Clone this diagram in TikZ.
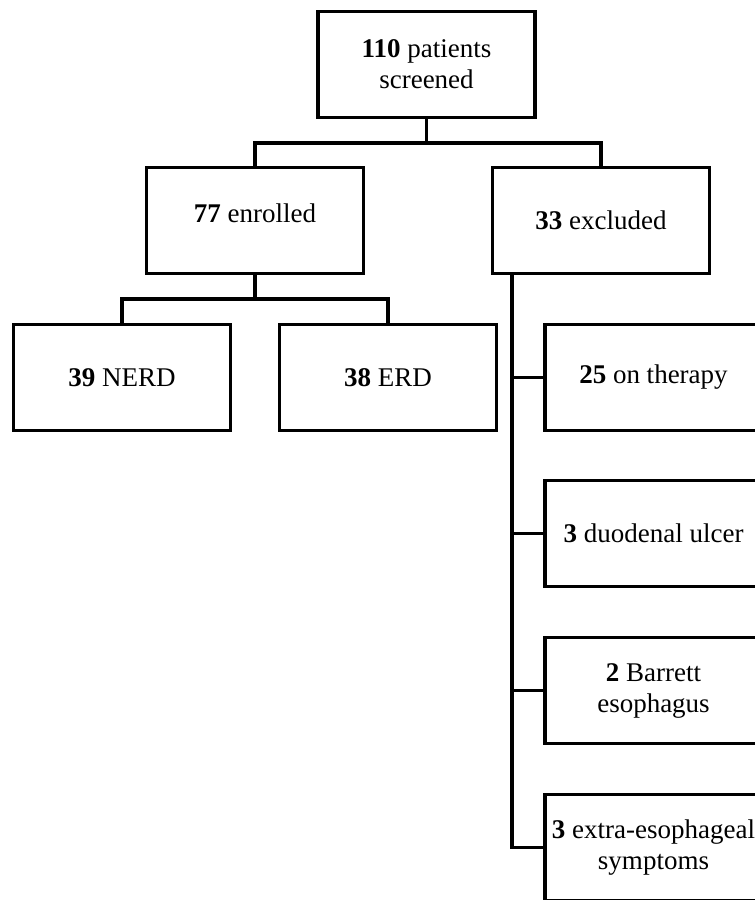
\documentclass[tikz,border=0pt]{standalone}
\usepackage{fontspec}
\setmainfont{Liberation Serif}
\begin{document}
\begin{tikzpicture}[x=1pt,y=-1pt,
  box/.style={draw=black, line width=3.6pt, fill=white, minimum width=217pt, minimum height=106pt, inner sep=0pt, align=center, font=\fontsize{27}{31}\selectfont},
  link/.style={draw=black, line width=3.6pt, line join=miter, line cap=rect}]
\useasboundingbox (0,0) rectangle (755,900);
\clip (0,0) rectangle (755,900);
% connectors first (boxes are filled white on top)
\coordinate (j1) at (426.5,143);
\coordinate (j2) at (255,299);
\coordinate (xs) at (512,274);
\node[box] (top) at (426.5,64.5) {\textbf{110} patients\\screened};
\node[box] (enr) at (255,220.5) {\raisebox{14pt}{\textbf{77} enrolled}};
\node[box] (exc) at (601,220.5) {\textbf{33} excluded};
\node[box] (nerd) at (122,377.5) {\textbf{39} NERD};
\node[box] (erd) at (388,377.5) {\textbf{38} ERD};
\node[box] (ther) at (653.5,377.5) {\textbf{25} on therapy};
\node[box] (duo) at (653.5,533.5) {\textbf{3} duodenal ulcer};
\node[box] (bar) at (653.5,690.5) {\textbf{2} Barrett\\esophagus};
\node[box] (ext) at (653.5,847.5) {\raisebox{19pt}{\begin{tabular}{@{}c@{}}\textbf{3} extra-esophageal\\symptoms\end{tabular}}};
\draw[link] (top.south) -- (j1);
\draw[link] (enr.north) |- (j1) -| (exc.north);
\draw[link] (enr.south) -- (j2);
\draw[link] (nerd.north) |- (j2) -| (erd.north);
\draw[link] (xs) |- (ext.west);
\draw[link] (xs) |- (ther.west);
\draw[link] (xs) |- (duo.west);
\draw[link] (xs) |- (bar.west);
\end{tikzpicture}
\end{document}
